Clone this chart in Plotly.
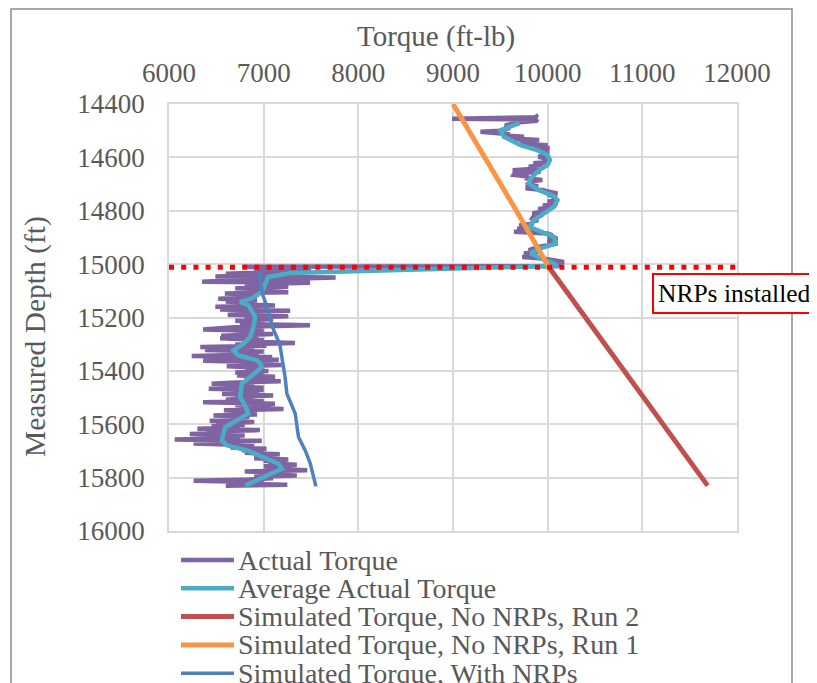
import plotly.graph_objects as go

# ---------------- data ----------------
actual_depth = [
    14440, 14445, 14450, 14455, 14458, 14463, 14468, 14473, 14480, 14490, 14500, 14504, 14508, 14513,
    14518, 14523, 14528, 14535, 14540, 14545, 14550, 14555, 14560, 14565, 14570, 14578, 14585, 14592,
    14598, 14605, 14612, 14617, 14622, 14628, 14635, 14642, 14648, 14654, 14660, 14666, 14672, 14678,
    14685, 14690, 14696, 14702, 14708, 14716, 14722, 14728, 14735, 14740, 14746, 14752, 14760, 14766,
    14773, 14780, 14787, 14793, 14800, 14806, 14810, 14815, 14822, 14829, 14835, 14842, 14848, 14855,
    14860, 14867, 14873, 14879, 14885, 14892, 14898, 14904, 14910, 14916, 14923, 14930, 14936, 14942,
    14948, 14954, 14960, 14966, 14973, 14979, 14985, 14992, 14998, 15004, 15008,
    15010, 15015, 15020, 15025, 15030, 15036, 15041, 15046, 15050, 15055, 15060, 15066, 15070, 15075,
    15080, 15085, 15090, 15095, 15100, 15105, 15110, 15115, 15120, 15125, 15130, 15135, 15140, 15145,
    15150, 15155, 15160, 15165, 15170, 15175, 15180, 15185, 15190, 15195, 15200, 15206, 15212, 15218,
    15224, 15229, 15234, 15240, 15245, 15250, 15256, 15262, 15268, 15273, 15278, 15284, 15290, 15296,
    15301, 15306, 15311, 15316, 15322, 15327, 15333, 15338, 15344, 15348, 15353, 15358, 15362, 15367,
    15372, 15378, 15383, 15388, 15394, 15400, 15406, 15412, 15417, 15422, 15428, 15434, 15439, 15444,
    15448, 15453, 15458, 15463, 15467, 15472, 15477, 15482, 15487, 15492, 15497, 15502, 15508, 15513,
    15518, 15523, 15528, 15533, 15538, 15543, 15548, 15553, 15558, 15563, 15567, 15572, 15577, 15582,
    15587, 15592, 15597, 15602, 15607, 15612, 15617, 15622, 15627, 15632, 15637, 15642, 15647, 15652,
    15657, 15662, 15667, 15672, 15677, 15682, 15687, 15692, 15697, 15702, 15707, 15712, 15717, 15722,
    15727, 15732, 15737, 15742, 15747, 15752, 15757, 15762, 15767, 15772, 15777, 15782, 15787, 15792,
    15797, 15802, 15807, 15812, 15817, 15822, 15827, 15830,
]
actual_torque = [
    9870, 9880, 9870, 8990, 9890, 9880, 9700, 9650, 9550, 9600, 9500, 9290, 9500, 9600,
    9550, 9750, 9600, 9910, 9700, 9800, 9750, 10000, 9850, 10020, 9900, 10014, 9950, 10010,
    9900, 10000, 9950, 10000, 9850, 9950, 9800, 9900, 9630, 9926, 9650, 9640, 9800, 9760,
    9944, 9800, 9850, 9770, 9900, 9767, 9950, 10000, 10103, 10000, 10080, 10050, 10100, 10000,
    10103, 9950, 10050, 9900, 10000, 9850, 9838, 9950, 9850, 9838, 9900, 9820, 9850, 9700,
    9800, 9679, 9900, 9644, 10000, 10050, 10000, 10103, 10050, 10000, 10103, 9950, 9900, 9850,
    9800, 9900, 9750, 9850, 9732, 9950, 10050, 10173, 10100, 10120, 10100,
    6780, 7300, 6900, 7500, 6950, 6600, 7150, 6490, 7760, 7000, 6700, 6350, 7490, 6800,
    7100, 7260, 6700, 7000, 6800, 7260, 6590, 6950, 6700, 6900, 6520, 6930, 6600, 6900,
    6700, 7120, 6490, 6950, 6540, 7280, 6750, 7000, 6620, 7260, 6800, 7100, 6700, 7000,
    6750, 7490, 6800, 6500, 6360, 7000, 6700, 7100, 6550, 6950, 6540, 7000, 6800, 7330,
    6700, 7030, 6330, 6900, 6380, 7000, 6600, 6950, 6240, 7090, 6700, 7160, 6360, 7000,
    6800, 7190, 6610, 7000, 6800, 7050, 6700, 7000, 6720, 7120, 6800, 7000, 7180, 6700,
    6450, 6900, 6600, 7000, 6420, 7000, 6700, 6950, 6560, 7100, 6700, 6900, 6600, 7000,
    6360, 7120, 6700, 6950, 6800, 7210, 6580, 6900, 6700, 6930, 6470, 6850, 6600, 6800,
    6430, 6900, 6500, 6800, 6450, 6750, 6300, 6960, 6400, 6700, 6220, 6800, 6400, 6750,
    6060, 6980, 6500, 6260, 6700, 6900, 6650, 7030, 6770, 7000, 6800, 7170, 6950, 7100,
    6900, 7260, 7000, 7200, 7050, 7350, 7000, 7300, 7100, 7460, 6800, 7300, 7000, 7350,
    6900, 7100, 6850, 6260, 7000, 6700, 7250, 6600,
]

avg_depth = [
    14472, 14498, 14523, 14554, 14573, 14591, 14610, 14629, 14648, 14679, 14698, 14723, 14745, 14760,
    14785, 14810, 14835, 14860, 14879, 14898, 14923, 14935, 14945, 14960, 14979, 14992, 15006, 15033,
    15048, 15054, 15079, 15104, 15129, 15142, 15154, 15179, 15198, 15236, 15273, 15298, 15323, 15342,
    15360, 15373, 15386, 15423, 15448, 15498, 15529, 15560, 15586, 15611, 15661, 15679, 15698, 15723,
    15748, 15767, 15786, 15811, 15830,
]
avg_torque = [
    9704, 9503, 9538, 9714, 9891, 9997, 10024, 9997, 9908, 9820, 9802, 9908, 10067, 10103,
    10067, 9961, 9855, 9802, 9926, 10067, 10085, 9997, 9891, 9820, 9926, 10032, 10106, 7280,
    7048, 7040, 7016, 6981, 6875, 6751, 6839, 6875, 6910, 6892, 6857, 6786, 6681, 6733,
    6928, 6963, 6981, 6857, 6769, 6751, 6804, 6839, 6716, 6593, 6558, 6611, 6822, 6998,
    7157, 7192, 7069, 6928, 6804,
]

run2_depth = [15010, 15500, 15830]
run2_torque = [10010, 11005, 11690]

run1_depth = [14400, 14600, 14800, 15010]
run1_torque = [9000, 9340, 9670, 10010]

nrp_depth = [15030, 15109, 15160, 15238, 15300, 15420, 15485, 15560, 15648, 15698, 15747, 15833]
nrp_torque = [6952, 6985, 7034, 7095, 7170, 7225, 7245, 7333, 7368, 7439, 7492, 7552]

series_names = [
    "Actual Torque",
    "Average Actual Torque",
    "Simulated Torque, No NRPs, Run 2",
    "Simulated Torque, No NRPs, Run 1",
    "Simulated Torque, With NRPs",
]
series_colors = ["#8064A2", "#4BACC6", "#C0504D", "#F79646", "#4F81BD"]
series_widths = [4.5, 4.5, 5, 5, 3.5]

x_ticks = [6000, 7000, 8000, 9000, 10000, 11000, 12000]
y_ticks = [14400, 14600, 14800, 15000, 15200, 15400, 15600, 15800, 16000]
NRP_INSTALL_DEPTH = 15012

# ---------------- layout geometry (page pixels) ----------------
PAGE_OFF = 8            # browser body margin
W, H = 817 - PAGE_OFF, 683 - PAGE_OFF
PLOT_L, PLOT_R, PLOT_T, PLOT_B = 169, 737, 104, 531
ML, MT = PLOT_L - PAGE_OFF, PLOT_T - PAGE_OFF
MR = W - ML - (PLOT_R - PLOT_L)
MB = H - MT - (PLOT_B - PLOT_T)
PW, PH = PLOT_R - PLOT_L, PLOT_B - PLOT_T


def px(xp):
    return (xp - PLOT_L) / PW


def py(yp):
    return (PLOT_B - yp) / PH


FONT = "Liberation Serif"
GREY = "#595959"
GRID = "#D9D9D9"

fig = go.Figure()
data = [
    (actual_depth, actual_torque),
    (avg_depth, avg_torque),
    (run2_depth, run2_torque),
    (run1_depth, run1_torque),
    (nrp_depth, nrp_torque),
]
for (d, t), name, c, w in zip(data, series_names, series_colors, series_widths):
    fig.add_trace(go.Scatter(x=t, y=d, mode="lines", name=name,
                             line=dict(color=c, width=w), showlegend=False))

shapes = [
    # chart area border
    dict(type="rect", xref="paper", yref="paper", x0=px(11), x1=px(792), y0=py(720), y1=py(8.9),
         line=dict(color="#8C8C8C", width=1.5), layer="below"),
    # NRP install line
    dict(type="line", xref="paper", yref="y", x0=0, x1=1, y0=NRP_INSTALL_DEPTH, y1=NRP_INSTALL_DEPTH,
         line=dict(color="#FF0000", width=5, dash="5px,7.2px"), layer="above"),
]

annotations = [
    dict(text="Torque (ft-lb)", xref="paper", yref="paper", x=px(436), y=py(36),
         showarrow=False, font=dict(family=FONT, size=29, color=GREY), xanchor="center", yanchor="middle"),
    dict(text="Measured Depth (ft)", xref="paper", yref="paper", x=px(35), y=py(337),
         showarrow=False, textangle=-90, font=dict(family=FONT, size=29.5, color=GREY),
         xanchor="center", yanchor="middle"),
    dict(text="NRPs installed", xref="paper", yref="paper", x=px(734), y=py(293),
         showarrow=False, font=dict(family=FONT, size=25.5, color="#000000"),
         bgcolor="#FFFFFF", bordercolor="#FF0000", borderwidth=2, borderpad=4,
         xanchor="center", yanchor="middle"),
]

# manual legend
row_y = [560, 588.3, 616.6, 644.9, 673.2]
for name, c, w, yy in zip(series_names, series_colors, series_widths, row_y):
    shapes.append(dict(type="line", xref="paper", yref="paper", x0=px(181), x1=px(234),
                       y0=py(yy), y1=py(yy), line=dict(color=c, width=w)))
    annotations.append(dict(text=name, xref="paper", yref="paper", x=px(236), y=py(yy),
                            showarrow=False, xanchor="left", yanchor="middle",
                            font=dict(family=FONT, size=28, color=GREY)))

fig.update_layout(
    width=W, height=H,
    margin=dict(l=ML, r=MR, t=MT, b=MB, autoexpand=False),
    paper_bgcolor="#FFFFFF", plot_bgcolor="#FFFFFF",
    showlegend=False,
    shapes=shapes, annotations=annotations,
    font=dict(family=FONT, size=27, color=GREY),
)
fig.update_xaxes(
    side="top", range=[6000, 12000], tickvals=x_ticks, ticktext=[str(v) for v in x_ticks],
    showgrid=True, gridcolor=GRID, gridwidth=1.5, zeroline=False,
    showline=True, mirror=True, linecolor=GRID, linewidth=1.5,
    ticks="", ticklabelstandoff=9, tickfont=dict(family=FONT, size=27, color=GREY),
)
fig.update_yaxes(
    range=[16000, 14400], tickvals=y_ticks, ticktext=[str(v) for v in y_ticks],
    showgrid=True, gridcolor=GRID, gridwidth=1.5, zeroline=False,
    showline=True, mirror=True, linecolor=GRID, linewidth=1.5,
    ticks="", ticklabelstandoff=17, tickfont=dict(family=FONT, size=27, color=GREY),
)

fig.write_html("out.html")
